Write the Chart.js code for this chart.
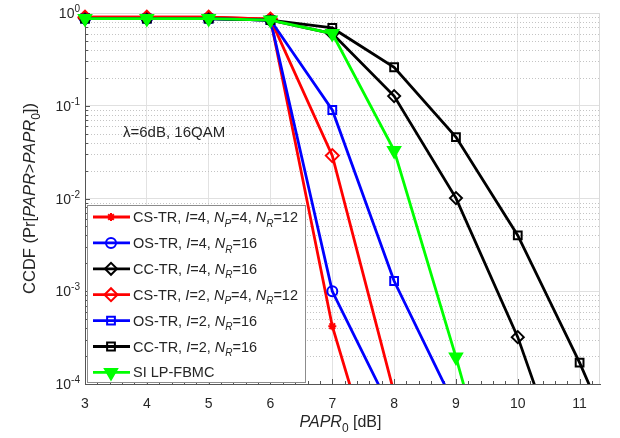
<!DOCTYPE html>
<html>
<head>
<meta charset="utf-8">
<script src="https://cdn.jsdelivr.net/npm/chart.js@4.4.0/dist/chart.umd.min.js"></script>
<style>
  html, body { margin: 0; padding: 0; background: #fff; }
</style>
</head>
<body>
<canvas id="ccdfChart" width="620" height="438"></canvas>
<script>
// PAPR threshold values [dB] and CCDF
const paprDb = [3, 4, 5, 6, 7, 8, 9, 10, 11, 12]
const ccdfCsTrI4 = [0.9, 0.9, 0.9, 0.86, 4.2e-4, 2.5e-6]
const ccdfOsTrI4 = [0.87, 0.87, 0.87, 0.84, 1.0e-3, 4.5e-5]
const ccdfCcTrI4 = [0.87, 0.87, 0.87, 0.84, 0.6, 0.127, 0.0101, 3.2e-4, 4e-6]
const ccdfCsTrI2 = [0.9, 0.9, 0.9, 0.86, 0.029, 8e-5]
const ccdfOsTrI2 = [0.87, 0.87, 0.87, 0.84, 0.09, 1.29e-3, 5.5e-5]
const ccdfCcTrI2 = [0.87, 0.87, 0.87, 0.84, 0.69, 0.26, 0.046, 0.004, 1.7e-4, 5e-6]
const ccdfSiLpFbmc = [0.87, 0.87, 0.87, 0.84, 0.6, 0.033, 1.95e-4, 8e-7]

// *..* = italic, _x = subscript
const seriesNames = [
    'CS-TR, *I*=4, *N_P*=4, *N_R*=12',
    'OS-TR, *I*=4, *N_R*=16',
    'CC-TR, *I*=4, *N_R*=16',
    'CS-TR, *I*=2, *N_P*=4, *N_R*=12',
    'OS-TR, *I*=2, *N_R*=16',
    'CC-TR, *I*=2, *N_R*=16',
    'SI LP-FBMC'
]
const xTicks = [3, 4, 5, 6, 7, 8, 9, 10, 11]
const yTickExps = [0, -1, -2, -3, -4]
const xTitle = '*PAPR*_0 [dB]'
const yTitle = 'CCDF (Pr[*PAPR*>*PAPR*_0])'
const noteText = 'λ=6dB, 16QAM'

const allSeries = [ccdfCsTrI4, ccdfOsTrI4, ccdfCcTrI4, ccdfCsTrI2, ccdfOsTrI2, ccdfCcTrI2, ccdfSiLpFbmc]

const lineColors = ['#ff0000', '#0000ff', '#000000', '#ff0000', '#0000ff', '#000000', '#00ff00']
const markerStyles = ['star', 'circle', 'rectRot', 'rectRot', 'rect', 'rect', 'triangle']
const markerSizes = [4, 5, 6, 6.5, 5.5, 5.5, 7]
const markerRotation = [0, 0, 0, 0, 0, 0, 180]
const markerFills = ['transparent', 'transparent', 'transparent', 'transparent', 'transparent', 'transparent', '#00ff00']

const FONT = '"Liberation Sans", Arial, Helvetica, sans-serif'
const TEXT_COLOR = '#262626'

const isDecade = v => Math.abs(Math.log10(v) - Math.round(Math.log10(v))) < 1e-6

const parseRich = str => {
    const segs = []
    let italic = false
    let i = 0
    while (i < str.length) {
        const c = str[i]
        if (c === '*') { italic = !italic; i++; continue }
        if (c === '_') { segs.push({ t: str[i + 1], italic, sub: true }); i += 2; continue }
        const last = segs[segs.length - 1]
        if (last && !last.sub && last.italic === italic) last.t += c
        else segs.push({ t: c, italic, sub: false })
        i++
    }
    return segs
}

const drawRich = (ctx, str, x, y, size, align) => {
    const segs = parseRich(str)
    const fontFor = s => `${s.italic ? 'italic ' : ''}${s.sub ? Math.round(size * 0.72) : size}px ${FONT}`
    let total = 0
    segs.forEach(s => { ctx.font = fontFor(s); s.w = ctx.measureText(s.t).width; total += s.w })
    let cx = align === 'center' ? x - total / 2 : x
    ctx.textAlign = 'left'
    ctx.textBaseline = 'alphabetic'
    segs.forEach(s => {
        ctx.font = fontFor(s)
        ctx.fillText(s.t, cx, s.sub ? y + size * 0.32 : y)
        cx += s.w
    })
}

const drawMarker = (ctx, i, x, y) => {
    ctx.save()
    ctx.strokeStyle = lineColors[i]
    ctx.fillStyle = markerFills[i]
    ctx.lineWidth = 2
    Chart.helpers.drawPoint(ctx, {
        pointStyle: markerStyles[i], radius: markerSizes[i],
        rotation: markerRotation[i], borderWidth: 2
    }, x, y)
    ctx.restore()
}

const decorPlugin = {
    id: 'decor',
    beforeDatasetsDraw(chart) {
        const { ctx, chartArea: a, scales: { x, y } } = chart
        ctx.save()
        // dotted minor grid
        ctx.strokeStyle = '#c4c4c4'
        ctx.lineWidth = 1
        ctx.setLineDash([1, 2])
        for (let e = -4; e < 0; e++) {
            for (let m = 2; m <= 9; m++) {
                const py = Math.round(y.getPixelForValue(m * Math.pow(10, e))) + 0.5
                ctx.beginPath(); ctx.moveTo(a.left, py); ctx.lineTo(a.right, py); ctx.stroke()
            }
        }
        ctx.setLineDash([])
        // light box on top / right
        ctx.strokeStyle = '#dadada'
        ctx.beginPath()
        ctx.moveTo(a.left, a.top + 0.5); ctx.lineTo(a.right - 0.5, a.top + 0.5); ctx.lineTo(a.right - 0.5, a.bottom)
        ctx.stroke()
        // inward ticks
        ctx.strokeStyle = '#555'
        for (let k = 0; k <= 41; k++) {
            const v = 3 + k * 0.2
            const px = Math.round(x.getPixelForValue(v)) + 0.5
            const len = k % 5 === 0 ? 5 : 3
            ctx.beginPath(); ctx.moveTo(px, a.bottom); ctx.lineTo(px, a.bottom - len); ctx.stroke()
        }
        for (let e = -4; e <= 0; e++) {
            for (let m = 1; m <= 9; m++) {
                const v = m * Math.pow(10, e)
                if (v > 1) break
                const py = Math.round(y.getPixelForValue(v)) + 0.5
                const len = m === 1 ? 5 : 3
                ctx.beginPath(); ctx.moveTo(a.left, py); ctx.lineTo(a.left + len, py); ctx.stroke()
            }
        }
        ctx.restore()
    },
    afterDraw(chart) {
        const { ctx, chartArea: a, scales: { x, y } } = chart
        ctx.save()
        ctx.fillStyle = TEXT_COLOR
        // x tick labels
        ctx.font = `14px ${FONT}`
        ctx.textAlign = 'center'
        ctx.textBaseline = 'alphabetic'
        xTicks.forEach(v => ctx.fillText(String(v), x.getPixelForValue(v), a.bottom + 24))
        // y tick labels 10^n
        yTickExps.forEach(e => {
            const py = y.getPixelForValue(Math.pow(10, e))
            ctx.font = `10px ${FONT}`
            const supW = ctx.measureText(String(e)).width
            ctx.font = `14px ${FONT}`
            const baseW = ctx.measureText('10').width
            const right = a.left - 5
            ctx.textAlign = 'left'
            ctx.fillText('10', right - supW - baseW, py + 5)
            ctx.font = `10px ${FONT}`
            ctx.fillText(String(e), right - supW, py - 1)
        })
        // axis titles
        drawRich(ctx, xTitle, (a.left + a.right) / 2 - 2, 427, 16, 'center')
        ctx.save()
        ctx.translate(35, (a.top + a.bottom) / 2)
        ctx.rotate(-Math.PI / 2)
        drawRich(ctx, yTitle, 0, 0, 16.5, 'center')
        ctx.restore()
        // annotation
        ctx.font = `15px ${FONT}`
        ctx.textAlign = 'left'
        ctx.fillText(noteText, 123, 137)
        // legend
        const lx = 87.5, ly = 205.5, lw = 218, lh = 177
        ctx.fillStyle = '#fff'
        ctx.fillRect(lx, ly, lw, lh)
        ctx.strokeStyle = '#8c8c8c'
        ctx.lineWidth = 1
        ctx.strokeRect(lx, ly, lw, lh)
        seriesNames.forEach((name, i) => {
            const ry = 217 + i * 25.9
            ctx.strokeStyle = lineColors[i]
            ctx.lineWidth = 2.8
            ctx.beginPath(); ctx.moveTo(93, ry); ctx.lineTo(130, ry); ctx.stroke()
            drawMarker(ctx, i, 111, ry)
            ctx.fillStyle = TEXT_COLOR
            drawRich(ctx, name, 133, ry + 5, 14.5, 'left')
        })
        ctx.restore()
    }
}

const data = {
    datasets: allSeries.map((values, i) => ({
        label: seriesNames[i].replace(/[*_]/g, ''),
        data: values.map((v, k) => ({ x: paprDb[k], y: v })),
        borderColor: lineColors[i],
        backgroundColor: markerFills[i],
        borderWidth: 2.8,
        pointStyle: markerStyles[i],
        pointRadius: markerSizes[i],
        pointRotation: markerRotation[i],
        pointBorderWidth: 2,
        pointBorderColor: lineColors[i],
        pointBackgroundColor: markerFills[i],
        tension: 0,
        order: 10 - i,
        clip: { left: 10, top: 10, right: 0, bottom: 0 }
    }))
}

const options = {
    responsive: false,
    animation: false,
    events: [],
    layout: { padding: { top: 13, right: 20, left: 0, bottom: 0 } },
    plugins: {
        legend: { display: false },
        tooltip: { enabled: false }
    },
    scales: {
        x: {
            type: 'linear',
            min: 3,
            max: 11.33,
            afterBuildTicks: s => { s.ticks = xTicks.map(v => ({ value: v })) },
            afterFit: s => { s.height = 54 },
            ticks: { display: false },
            grid: { color: '#e2e2e2', drawTicks: false },
            border: { display: true, color: '#555' }
        },
        y: {
            type: 'logarithmic',
            min: 1e-4,
            max: 1,
            afterFit: s => { s.width = 85 },
            ticks: { display: false },
            grid: {
                color: c => (c.tick && isDecade(c.tick.value)) ? '#e0e0e0' : 'rgba(0,0,0,0)',
                drawTicks: false
            },
            border: { display: true, color: '#555' }
        }
    }
}

new Chart('ccdfChart', { type: 'line', data, options, plugins: [decorPlugin] })
</script>
</body>
</html>
